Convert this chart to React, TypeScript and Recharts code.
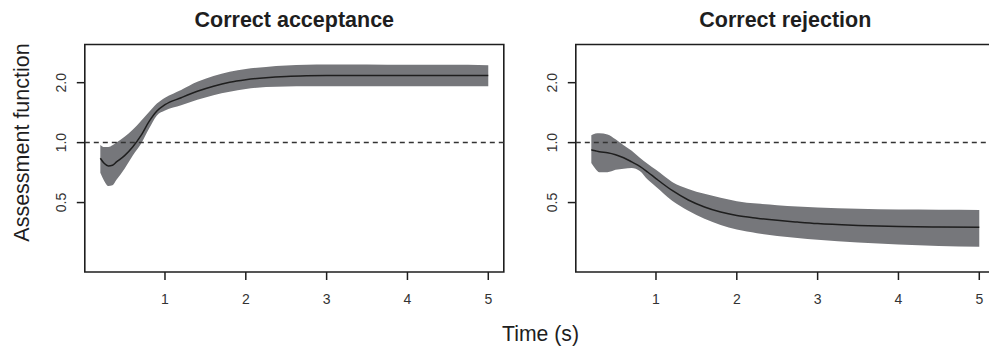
import React from 'react';
import { ComposedChart, Area, Line, XAxis, YAxis, ReferenceLine, ReferenceArea } from 'recharts';

// ---- data ----
const timeAcc = [0.2, 0.25, 0.3, 0.35, 0.4, 0.5, 0.6, 0.7, 0.8, 0.9, 1.0, 1.2, 1.4, 1.6, 1.8, 2.0, 2.25, 2.5, 2.75, 3.0, 3.5, 4.0, 4.5, 5.0];
const lowerAcc = [0.705, 0.64, 0.605, 0.61, 0.65, 0.74, 0.86, 0.98, 1.17, 1.37, 1.45, 1.54, 1.64, 1.73, 1.8, 1.86, 1.9, 1.915, 1.92, 1.92, 1.92, 1.92, 1.92, 1.92];
const centerAcc = [0.835, 0.785, 0.764, 0.77, 0.8, 0.86, 0.95, 1.08, 1.27, 1.44, 1.55, 1.68, 1.81, 1.92, 2.01, 2.07, 2.12, 2.15, 2.165, 2.17, 2.17, 2.17, 2.17, 2.17];
const upperAcc = [0.974, 0.95, 0.95, 0.97, 1.0, 1.07, 1.16, 1.28, 1.42, 1.57, 1.68, 1.84, 2.02, 2.16, 2.27, 2.34, 2.4, 2.44, 2.46, 2.47, 2.47, 2.46, 2.46, 2.45];

const timeRej = [0.2, 0.25, 0.3, 0.4, 0.5, 0.6, 0.7, 0.8, 0.9, 1.0, 1.2, 1.4, 1.6, 1.8, 2.0, 2.25, 2.5, 2.75, 3.0, 3.5, 4.0, 4.5, 5.0];
const lowerRej = [0.79, 0.74, 0.71, 0.71, 0.73, 0.74, 0.745, 0.72, 0.65, 0.6, 0.51, 0.455, 0.415, 0.386, 0.366, 0.351, 0.34, 0.332, 0.325, 0.315, 0.308, 0.303, 0.3];
const centerRej = [0.92, 0.91, 0.9, 0.89, 0.87, 0.84, 0.8, 0.76, 0.71, 0.66, 0.575, 0.515, 0.475, 0.448, 0.43, 0.417, 0.407, 0.399, 0.392, 0.384, 0.379, 0.377, 0.376];
const upperRej = [1.09, 1.11, 1.115, 1.1, 1.04, 0.97, 0.91, 0.84, 0.78, 0.73, 0.635, 0.585, 0.553, 0.528, 0.508, 0.494, 0.485, 0.478, 0.472, 0.465, 0.461, 0.46, 0.459];

const xTicks = [1, 2, 3, 4, 5];
const yTicks = [0.5, 1, 2];
const yTickLabels = ['0.5', '1.0', '2.0'];
const titles = ['Correct acceptance', 'Correct rejection'];
const xLabel = 'Time (s)';
const yLabel = 'Assessment function';

const X_DOMAIN: [number, number] = [0.008, 5.192];
const Y_DOMAIN: [number, number] = [0.224, 3.11];

const FONT = '"Liberation Sans", Arial, Helvetica, sans-serif';
const BAND = '#76777b';
const INK = '#1e1e1e';

const build = (t: number[], lo: number[], c: number[], hi: number[]) =>
  t.map((v, i) => ({ t: v, range: [lo[i], hi[i]], center: c[i] }));

const tickStyle: React.CSSProperties = { fontSize: '14px', fontFamily: FONT, fill: '#333' };

const XTick = (props: any) => {
  const { x, y, payload } = props;
  return (
    <text x={x} y={y} dy={10} textAnchor="middle" style={tickStyle}>
      {payload.value}
    </text>
  );
};

const YTick = (props: any) => {
  const { x, y, payload } = props;
  const idx = yTicks.indexOf(payload.value);
  return (
    <text x={x} y={y} transform={`rotate(-90 ${x} ${y})`} textAnchor="middle" style={tickStyle}>
      {idx >= 0 ? yTickLabels[idx] : payload.value}
    </text>
  );
};

const W = 520;
const H = 350;

function Panel({ data, left, marginLeft, marginRight }: { data: any[]; left: number; marginLeft: number; marginRight: number }) {
  return (
    <div style={{ position: 'absolute', left, top: 0, width: W, height: H }}>
      <ComposedChart width={W} height={H} data={data} margin={{ top: 44.5, right: marginRight, bottom: 38, left: marginLeft }}>
        <XAxis
          dataKey="t"
          type="number"
          domain={X_DOMAIN}
          allowDataOverflow
          ticks={xTicks}
          axisLine={false}
          tickLine={{ stroke: INK, strokeWidth: 1.5 }}
          tickSize={8}
          tickMargin={14}
          tick={(p: any) => <XTick {...p} />}
          height={40}
          interval={0}
        />
        <YAxis
          type="number"
          scale="log"
          domain={Y_DOMAIN}
          allowDataOverflow
          ticks={yTicks}
          axisLine={false}
          tickLine={{ stroke: INK, strokeWidth: 1.5 }}
          tickSize={8}
          tickMargin={11}
          tick={(p: any) => <YTick {...p} />}
          width={40}
          interval={0}
        />
        <Area dataKey="range" type="monotone" fill={BAND} fillOpacity={1} stroke="none" isAnimationActive={false} />
        <Line dataKey="center" type="monotone" stroke={INK} strokeWidth={1.5} dot={false} isAnimationActive={false} />
        <ReferenceLine y={1} stroke="#333" strokeWidth={1.5} strokeDasharray="5 4" />
        <ReferenceArea
          x1={X_DOMAIN[0]}
          x2={X_DOMAIN[1]}
          y1={Y_DOMAIN[0]}
          y2={Y_DOMAIN[1]}
          fill="none"
          fillOpacity={0}
          stroke={INK}
          strokeWidth={1.6}
          ifOverflow="visible"
        />
      </ComposedChart>
    </div>
  );
}

export default function App() {
  const accData = build(timeAcc, lowerAcc, centerAcc, upperAcc);
  const rejData = build(timeRej, lowerRej, centerRej, upperRej);
  return (
    <div style={{ position: 'relative', width: 989, height: 350, overflow: 'hidden', background: '#fff' }}>
      <style>{'body{margin:0}'}</style>
      <Panel data={accData} left={0} marginLeft={44.8} marginRight={W - 503.8} />
      <Panel data={rejData} left={490} marginLeft={45.8} marginRight={W - 504.8} />
      <svg width={989} height={350} style={{ position: 'absolute', left: 0, top: 0, pointerEvents: 'none' }}>
        <text x={294.3} y={26.5} textAnchor="middle" fontSize={21.5} fontWeight="bold" fontFamily={FONT} fill={INK}>
          {titles[0]}
        </text>
        <text x={785.3} y={26.5} textAnchor="middle" fontSize={21.5} fontWeight="bold" fontFamily={FONT} fill={INK}>
          {titles[1]}
        </text>
        <text x={540.5} y={340.5} textAnchor="middle" fontSize={21.2} fontFamily={FONT} fill={INK}>
          {xLabel}
        </text>
        <text x={29} y={142.5} transform="rotate(-90 29 142.5)" textAnchor="middle" fontSize={21.5} fontFamily={FONT} fill={INK}>
          {yLabel}
        </text>
      </svg>
    </div>
  );
}
